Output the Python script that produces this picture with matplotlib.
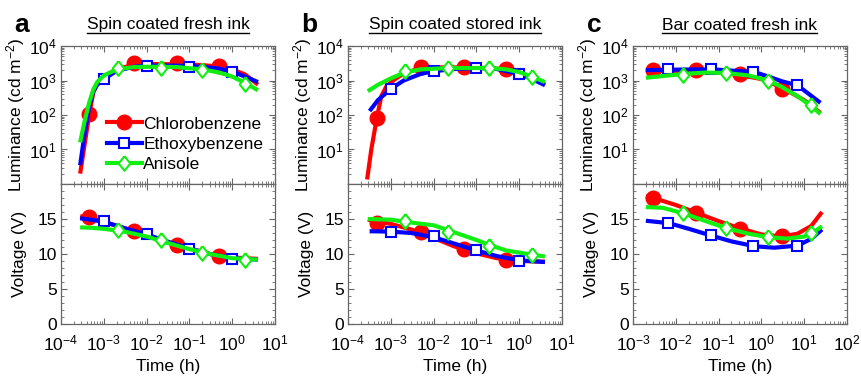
import matplotlib
matplotlib.use("Agg")
import matplotlib.pyplot as plt
from matplotlib.ticker import LogLocator, MultipleLocator, NullFormatter, FixedLocator
from matplotlib.lines import Line2D

plt.rcParams['font.family'] = ['Liberation Sans', 'DejaVu Sans']
plt.rcParams['mathtext.fontset'] = 'custom'
plt.rcParams['mathtext.rm'] = 'Liberation Sans'
plt.rcParams['mathtext.it'] = 'Liberation Sans:italic'
plt.rcParams['mathtext.bf'] = 'Liberation Sans:bold'
FS = 12.5
plt.rcParams['font.size'] = FS

# ---------------- data ----------------
series_names = ["Chlorobenzene", "Ethoxybenzene", "Anisole"]
panel_letters = ["a", "b", "c"]
panel_titles = ["Spin coated fresh ink", "Spin coated stored ink", "Bar coated fresh ink"]
x_limits = [(1e-4, 1e1), (1e-4, 1e1), (1e-3, 1e2)]

# Panel a - markers
a_cb_t = [4.6e-4, 5e-3, 5e-2, 0.5]
a_cb_L = [110, 3200, 3300, 2600]
a_cb_V = [15.3, 13.3, 11.3, 9.75]
a_eb_t = [1e-3, 1e-2, 0.1, 1]
a_eb_L = [1070, 2600, 2400, 1750]
a_eb_V = [14.7, 12.85, 10.7, 9.3]
a_an_t = [2.2e-3, 2.2e-2, 0.2, 2]
a_an_L = [2300, 2300, 2000, 800]
a_an_V = [13.4, 12.0, 10.2, 9.2]
# Panel a - fit curves
a_fitL_t = [2.8e-4, 3.5e-4, 4.6e-4, 5.7e-4, 7e-4, 1e-3, 2e-3, 5e-3, 1e-2, 5e-2, 0.2, 0.5, 1, 2, 4]
a_cb_fitL = [2, 12, 110, 450, 800, 1300, 2100, 2900, 3000, 2950, 2800, 2500, 2100, 1500, 760]
a_eb_fitL = [3.5, 25, 180, 500, 750, 1100, 1900, 2500, 2700, 2700, 2500, 2200, 1800, 1300, 900]
a_an_fitL = [16, 60, 240, 550, 900, 1400, 2100, 2450, 2500, 2450, 2100, 1700, 1300, 850, 520]
a_fitV_t = [2.8e-4, 5e-4, 1e-3, 3e-3, 1e-2, 3e-2, 0.1, 0.3, 1, 4]
a_cb_fitV = [15.4, 15.1, 14.6, 13.7, 12.7, 11.7, 10.8, 10.0, 9.5, 9.3]
a_eb_fitV = [15.1, 14.9, 14.6, 13.7, 12.8, 11.8, 10.8, 10.0, 9.4, 9.2]
a_an_fitV = [13.8, 13.75, 13.6, 13.2, 12.5, 11.6, 10.7, 10.0, 9.4, 9.2]

# Panel b - markers
b_cb_t = [4.7e-4, 5e-3, 5e-2, 0.5]
b_cb_L = [80, 2400, 2400, 2100]
b_cb_V = [14.5, 13.1, 10.75, 9.2]
b_eb_t = [1e-3, 1e-2, 0.1, 1]
b_eb_L = [570, 1860, 2300, 1500]
b_eb_V = [13.2, 12.6, 10.6, 9.0]
b_an_t = [2.2e-3, 2.2e-2, 0.2, 2]
b_an_L = [1860, 2300, 2300, 1250]
b_an_V = [14.7, 13.1, 11.2, 9.9]
# Panel b - fit curves
b_cb_fitL_t = [2.8e-4, 3.5e-4, 4.7e-4, 6e-4, 8e-4, 1.2e-3, 2e-3, 5e-3, 1e-2, 5e-2, 0.2, 0.5, 1, 2, 4]
b_cb_fitL = [1.35, 10, 80, 350, 700, 1050, 1600, 2300, 2400, 2400, 2300, 2100, 1600, 1150, 760]
b_eb_fitL_t = [3.2e-4, 5e-4, 1e-3, 2e-3, 5e-3, 1e-2, 3e-2, 0.1, 0.3, 1, 2, 4]
b_eb_fitL = [130, 270, 570, 1000, 1550, 1860, 2150, 2300, 2150, 1550, 1100, 730]
b_an_fitL_t = [2.9e-4, 5e-4, 1e-3, 2.2e-3, 5e-3, 2.2e-2, 0.2, 0.5, 1, 2, 4]
b_an_fitL = [490, 750, 1150, 1750, 2100, 2300, 2300, 2100, 1750, 1300, 900]
b_cb_fitV_t = [2.9e-4, 1e-3, 3e-3, 1e-2, 3e-2, 0.1, 0.3, 1, 4]
b_cb_fitV = [14.9, 14.3, 13.5, 12.3, 11.1, 10.1, 9.4, 9.0, 8.9]
b_eb_fitV_t = [3.2e-4, 1e-3, 3e-3, 1e-2, 3e-2, 0.1, 0.3, 1, 4]
b_eb_fitV = [13.25, 13.2, 13.0, 12.4, 11.5, 10.5, 9.7, 9.1, 8.85]
b_an_fitV_t = [2.9e-4, 1e-3, 2.2e-3, 1e-2, 2.2e-2, 0.1, 0.2, 0.5, 2, 4]
b_an_fitV = [15.0, 14.9, 14.6, 14.1, 13.4, 12.0, 11.3, 10.5, 9.9, 9.65]

# Panel c - markers
c_cb_t = [3e-3, 3e-2, 0.32, 3.1]
c_cb_L = [1950, 1950, 1500, 550]
c_cb_V = [18.0, 15.9, 13.6, 12.6]
c_eb_t = [6.5e-3, 6.6e-2, 0.65, 6.8]
c_eb_L = [2100, 2200, 1780, 720]
c_eb_V = [14.4, 12.75, 11.1, 11.2]
c_an_t = [1.45e-2, 0.145, 1.45, 14.6]
c_an_L = [1400, 1660, 960, 190]
c_an_V = [15.9, 13.7, 12.4, 13.0]
# Panel c - fit curves
c_cb_fitL_t = [2e-3, 5e-3, 1e-2, 3e-2, 0.1, 0.3, 1, 3, 10, 24]
c_cb_fitL = [1850, 1900, 1900, 1850, 1700, 1450, 1100, 620, 270, 115]
c_eb_fitL_t = [2e-3, 7e-3, 3e-2, 0.1, 0.7, 1.6, 3, 7, 24]
c_eb_fitL = [2000, 2050, 2100, 2050, 1750, 1250, 950, 720, 225]
c_an_fitL_t = [2e-3, 5e-3, 1.5e-2, 5e-2, 0.15, 0.5, 1.44, 3, 7, 14.6, 24]
c_an_fitL = [1200, 1350, 1550, 1700, 1650, 1400, 1000, 650, 350, 180, 107]
c_cb_fitV_t = [2e-3, 3e-3, 1e-2, 3e-2, 0.1, 0.3, 1, 3, 7, 14.6, 26]
c_cb_fitV = [18.25, 18.0, 17.0, 15.9, 14.7, 13.7, 12.8, 12.5, 12.9, 14.0, 16.0]
c_eb_fitV_t = [2e-3, 7e-3, 2e-2, 7e-2, 0.2, 0.7, 2, 7, 15, 26]
c_eb_fitV = [14.75, 14.4, 13.6, 12.6, 11.8, 11.1, 10.9, 11.2, 12.2, 13.5]
c_an_fitV_t = [2e-3, 5e-3, 1.5e-2, 5e-2, 0.15, 0.5, 1.44, 4, 10, 14.6, 26]
c_an_fitV = [16.7, 16.6, 15.8, 14.7, 13.7, 12.9, 12.4, 12.2, 12.5, 12.9, 13.95]

panels = [
    dict(markers=[(a_cb_t, a_cb_L, a_cb_V), (a_eb_t, a_eb_L, a_eb_V), (a_an_t, a_an_L, a_an_V)],
         fitL=[(a_fitL_t, a_cb_fitL), (a_fitL_t, a_eb_fitL), (a_fitL_t, a_an_fitL)],
         fitV=[(a_fitV_t, a_cb_fitV), (a_fitV_t, a_eb_fitV), (a_fitV_t, a_an_fitV)]),
    dict(markers=[(b_cb_t, b_cb_L, b_cb_V), (b_eb_t, b_eb_L, b_eb_V), (b_an_t, b_an_L, b_an_V)],
         fitL=[(b_cb_fitL_t, b_cb_fitL), (b_eb_fitL_t, b_eb_fitL), (b_an_fitL_t, b_an_fitL)],
         fitV=[(b_cb_fitV_t, b_cb_fitV), (b_eb_fitV_t, b_eb_fitV), (b_an_fitV_t, b_an_fitV)]),
    dict(markers=[(c_cb_t, c_cb_L, c_cb_V), (c_eb_t, c_eb_L, c_eb_V), (c_an_t, c_an_L, c_an_V)],
         fitL=[(c_cb_fitL_t, c_cb_fitL), (c_eb_fitL_t, c_eb_fitL), (c_an_fitL_t, c_an_fitL)],
         fitV=[(c_cb_fitV_t, c_cb_fitV), (c_eb_fitV_t, c_eb_fitV), (c_an_fitV_t, c_an_fitV)]),
]

# ---------------- style ----------------
colors = ['#ff0000', '#0000ff', '#11ee11']
diamond = [(0, 1), (0.8, 0), (0, -1), (-0.8, 0), (0, 1)]
mstyles = [
    dict(marker='o', markersize=10.5, markerfacecolor='#ff0000', markeredgecolor='#ff0000', markeredgewidth=1),
    dict(marker='s', markersize=7.5, markerfacecolor='white', markeredgecolor='#0000ff', markeredgewidth=1.5),
    dict(marker=diamond, markersize=10.5, markerfacecolor='white', markeredgecolor='#11ee11', markeredgewidth=1.5),
]
LW = 3.0
spine_color = '#666666'

W, H = 862, 376
fig = plt.figure(figsize=(W / 100, H / 100), dpi=100)
lefts = [61, 348, 633]
aw = 214
top_px, mid_px, bot_px = 46, 184, 324

def style_axes(ax):
    for s in ax.spines.values():
        s.set_color(spine_color)
        s.set_linewidth(0.9)
    ax.tick_params(which='both', direction='in', top=True, right=True, color=spine_color,
                   labelsize=FS, labelcolor='black')
    ax.tick_params(which='major', length=4, width=0.8, pad=3)
    ax.tick_params(which='minor', length=2, width=0.6)

for i, p in enumerate(panels):
    l = lefts[i] / W
    axL = fig.add_axes([l, 1 - mid_px / H, aw / W, (mid_px - top_px) / H])
    axV = fig.add_axes([l, 1 - bot_px / H, aw / W, (bot_px - mid_px) / H])
    for ax in (axL, axV):
        ax.set_xscale('log')
        ax.set_xlim(*x_limits[i])
        ax.xaxis.set_major_locator(LogLocator(base=10, numticks=20))
        ax.xaxis.set_minor_locator(LogLocator(base=10, subs=range(2, 10), numticks=50))
        ax.xaxis.set_minor_formatter(NullFormatter())
        style_axes(ax)
    axL.set_yscale('log')
    axL.set_ylim(1, 1e4)
    axL.yaxis.set_major_locator(FixedLocator([10, 100, 1000, 10000]))
    axL.yaxis.set_minor_locator(LogLocator(base=10, subs=range(2, 10), numticks=50))
    axL.yaxis.set_minor_formatter(NullFormatter())
    axL.tick_params(axis='x', labelbottom=False)
    axV.set_ylim(0, 20)
    axV.yaxis.set_major_locator(FixedLocator([0, 5, 10, 15]))
    axV.yaxis.set_minor_locator(MultipleLocator(1))
    axV.tick_params(axis='x', which='major', pad=7)

    for k in range(3):
        z = 2 + k
        tL, yL = p['fitL'][k]
        axL.plot(tL, yL, color=colors[k], lw=LW, zorder=z, solid_capstyle='butt')
        tV, yV = p['fitV'][k]
        axV.plot(tV, yV, color=colors[k], lw=LW, zorder=z, solid_capstyle='butt')
        mt, mL, mV = p['markers'][k]
        axL.plot(mt, mL, linestyle='none', zorder=z + 0.5, **mstyles[k])
        axV.plot(mt, mV, linestyle='none', zorder=z + 0.5, **mstyles[k])

    axL.set_ylabel('Luminance (cd m$^{-2}$)', fontsize=FS)
    axV.set_ylabel('Voltage (V)', fontsize=FS)
    axL.yaxis.set_label_coords(-0.16, 0.5)
    axV.yaxis.set_label_coords(-0.16, 0.5)
    axV.set_xlabel('Time (h)', fontsize=FS, labelpad=4)

    cx = (lefts[i] + aw / 2) / W
    fig.text(lefts[i] / W - 39 / W, 1 - 25 / H, panel_letters[i], fontsize=19, fontweight='bold',
             ha='center', va='center')
    t = fig.text(cx, 1 - 25 / H, panel_titles[i], fontsize=FS, ha='center', va='center')
    t.set_gid('title%d' % i)

    if i == 0:
        handles = [Line2D([], [], color=colors[k], lw=LW, **mstyles[k]) for k in range(3)]
        axL.legend(handles, series_names, loc='upper left', bbox_to_anchor=(0.215, 0.49),
                   frameon=False, numpoints=1, handlelength=2.0, handletextpad=0.1,
                   labelspacing=0.3, borderpad=0, borderaxespad=0, fontsize=FS)

# underline titles
fig.canvas.draw()
renderer = fig.canvas.get_renderer()
for txt in list(fig.texts):
    if txt.get_gid() and txt.get_gid().startswith('title'):
        bb = txt.get_window_extent(renderer)
        y = (bb.y0 - 0.5) / H
        fig.add_artist(Line2D([bb.x0 / W, bb.x1 / W], [y, y], color='black', lw=1.0))

fig.savefig('out.png', dpi=100)
